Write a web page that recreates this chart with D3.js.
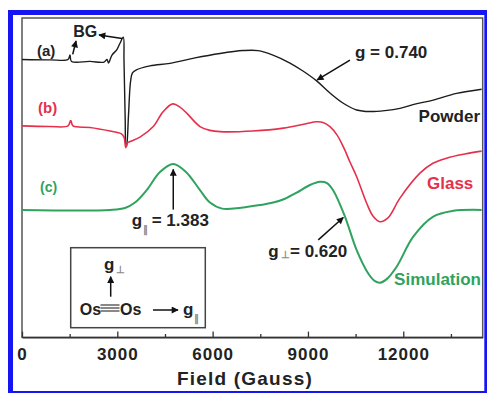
<!DOCTYPE html>
<html>
<head>
<meta charset="utf-8">
<script src="https://cdn.jsdelivr.net/npm/d3@7/dist/d3.min.js"></script>
<style>
  html, body { margin: 0; padding: 0; background: #fff; }
  svg { display: block; }
  text { font-family: "Liberation Sans", Arial, Helvetica, sans-serif; font-weight: bold; }
</style>
</head>
<body>
<svg id="chart" width="487" height="393"></svg>
<script>
// ---------------- DATA ----------------
// Field in Gauss, intensity in arbitrary units (stacked with offsets)
const powderField = [0, 881, 1448, 1510, 1558, 2140, 2581, 2675, 2722, 2832, 2980, 3084, 3188, 3210, 3248, 3273, 3289, 3352, 3415, 3477, 3588, 4028, 4658, 5444, 6231, 6955, 7427, 7899, 8434, 8843, 9274, 9693, 10112, 10533, 10952, 11424, 11896, 12399, 12944, 13680, 14467];
const powderValue = [87.0, 86.9, 87.0, 88.4, 86.4, 86.4, 86.2, 87.0, 85.9, 88.4, 90.0, 92.1, 94.0, 86.8, 68.1, 59.8, 59.9, 69.6, 80.0, 82.8, 83.7, 85.0, 85.8, 87.5, 88.9, 89.8, 89.8, 88.4, 85.9, 83.4, 80.3, 76.5, 73.3, 71.2, 70.7, 71.0, 71.7, 73.1, 74.3, 76.4, 77.7];

const glassField = [0, 881, 1448, 1533, 1605, 2140, 2769, 3116, 3210, 3267, 3320, 3399, 3713, 4132, 4437, 4743, 4972, 5183, 5602, 5916, 6231, 7270, 8223, 8906, 9274, 9472, 9693, 9913, 10112, 10322, 10533, 10848, 11046, 11266, 11518, 11896, 12525, 12934, 13365, 13941, 14467];
const glassValue = [66.2, 66.0, 66.2, 67.9, 66.2, 65.7, 64.6, 63.8, 62.7, 59.4, 60.9, 61.3, 62.7, 66.0, 70.6, 73.1, 72.1, 70.2, 66.0, 64.8, 64.4, 64.6, 65.5, 66.8, 67.5, 67.3, 66.0, 63.4, 59.7, 54.9, 50.3, 42.0, 38.0, 36.2, 37.4, 43.6, 51.4, 54.5, 56.1, 57.4, 58.3];

const simField = [0, 2769, 3242, 3556, 3924, 4343, 4761, 5161, 5602, 5916, 6300, 6900, 7490, 7909, 8277, 8645, 9063, 9378, 9598, 9797, 10165, 10533, 10898, 11109, 11266, 11486, 11792, 12314, 12944, 13573, 14467];
const simValue = [39.9, 39.9, 40.5, 42.2, 46.1, 51.8, 54.3, 51.8, 46.1, 42.2, 40.3, 40.6, 41.4, 42.2, 43.4, 45.3, 47.7, 48.7, 48.3, 46.0, 37.8, 27.3, 20.0, 17.6, 17.1, 18.3, 22.1, 31.5, 37.8, 39.6, 39.9];

const majorTicks = [0, 3000, 6000, 9000, 12000];
const minorTicks = [1500, 4500, 7500, 10500, 13500];
const xTitle = "Field (Gauss)";
const curveLabels = ["(a)", "(b)", "(c)"];
const curveNames = ["Powder", "Glass", "Simulation"];

// ---------------- LAYOUT ----------------
const svg = d3.select("#chart");
const pL = 22, pR = 482.7, pT = 18, pB = 337.3;
const x = d3.scaleLinear().domain([0, 14500]).range([pL, pR]);
const y = d3.scaleLinear().domain([0, 100]).range([pB, pT]);

const colBlack = "#1c1c1c", colRed = "#e5304c", colGreen = "#2fa35e";

// blue figure border
svg.append("rect").attr("x", 10.5).attr("y", 12.5).attr("width", 476.3).attr("height", 381)
  .attr("fill", "none").attr("stroke", "#1515f2").attr("stroke-width", 5);

// arrow marker
const defs = svg.append("defs");
defs.append("marker").attr("id", "ah").attr("viewBox", "0 0 10 10")
  .attr("refX", 9).attr("refY", 5).attr("markerWidth", 9).attr("markerHeight", 7)
  .attr("markerUnits", "userSpaceOnUse").attr("orient", "auto")
  .append("path").attr("d", "M0,0 L10,5 L0,10 Z").attr("fill", "#111");

// frame
svg.append("rect").attr("x", pL).attr("y", pT).attr("width", pR - pL).attr("height", pB - pT)
  .attr("fill", "none").attr("stroke", "#555").attr("stroke-width", 1.5);

// axes
const gx = svg.append("g").attr("transform", `translate(0,${pB})`)
  .call(d3.axisBottom(x).tickValues(majorTicks).tickFormat(d3.format("d")).tickSize(-5.7).tickSizeOuter(0).tickPadding(11));
gx.select(".domain").attr("stroke", "#333").attr("stroke-width", 1.5);
gx.selectAll(".tick line").attr("stroke", "#333").attr("stroke-width", 1.3);
gx.selectAll(".tick text").attr("font-size", 17).attr("fill", "#222").attr("letter-spacing", "1px")
  .attr("font-family", "Liberation Sans, Arial, sans-serif").attr("font-weight", "bold");

const gm = svg.append("g").attr("transform", `translate(0,${pB})`)
  .call(d3.axisBottom(x).tickValues(minorTicks).tickFormat("").tickSize(-3.3).tickSizeOuter(0));
gm.select(".domain").remove();
gm.selectAll(".tick line").attr("stroke", "#333").attr("stroke-width", 1.3);

svg.append("text").attr("x", 245).attr("y", 385).attr("text-anchor", "middle")
  .attr("font-size", 19).attr("letter-spacing", "1.2px").attr("fill", "#222").text(xTitle);

// curves
const line = d3.line().x(d => x(d[0])).y(d => y(d[1])).curve(d3.curveCatmullRom.alpha(0.5));
const series = [
  { f: powderField, v: powderValue, c: colBlack, w: 1.4 },
  { f: glassField, v: glassValue, c: colRed, w: 1.6 },
  { f: simField, v: simValue, c: colGreen, w: 2 }
];
series.forEach(s => {
  svg.append("path").datum(s.f.map((f, i) => [f, s.v[i]]))
    .attr("d", line).attr("fill", "none").attr("stroke", s.c).attr("stroke-width", s.w)
    .attr("stroke-linejoin", "round");
});

// labels
const lab = (tx, xx, yy, size, col, anchor) =>
  svg.append("text").attr("x", xx).attr("y", yy).attr("font-size", size).attr("fill", col)
    .attr("text-anchor", anchor || "start").text(tx);

lab(curveLabels[0], 37, 56, 15, "#222");
lab(curveLabels[1], 38, 113, 15, colRed);
lab(curveLabels[2], 40, 191.5, 14, colGreen);
lab(curveNames[0], 480, 122, 17, "#222", "end");
lab(curveNames[1], 473.3, 189.3, 17, colRed, "end");
lab(curveNames[2], 481, 285, 17, colGreen, "end");

lab("BG", 73.3, 37.3, 16, "#222");
lab("g = 0.740", 355, 58.3, 17, "#222");

lab("g", 131.7, 226, 17, "#222");
lab("\u2225", 143, 233, 10, "#888");
lab("= 1.383", 151.7, 226, 17, "#222");

lab("g", 268.3, 257.3, 17, "#222");
lab("\u22A5", 280.5, 258, 10, "#888");
lab("= 0.620", 290, 257.3, 17, "#222");

// annotation arrows (field, intensity coordinates)
const arrows = [
  [[1596, 88.6], [1700, 92.8]],
  [[3150, 93.6], [2423, 94.7]],
  [[10322, 86.8], [9290, 80.6]],
  [[4761, 40.0], [4761, 52.6]],
  [[9325, 30.5], [10112, 37.5]]
];
arrows.forEach(a => {
  svg.append("line").attr("x1", x(a[0][0])).attr("y1", y(a[0][1]))
    .attr("x2", x(a[1][0])).attr("y2", y(a[1][1]))
    .attr("stroke", "#111").attr("stroke-width", 1.5).attr("marker-end", "url(#ah)");
});

// inset
const inset = svg.append("g");
inset.append("rect").attr("x", 70.7).attr("y", 247.7).attr("width", 134.6).attr("height", 80)
  .attr("fill", "#fff").attr("stroke", "#444").attr("stroke-width", 1.5);
inset.append("text").attr("x", 104).attr("y", 270).attr("font-size", 17).attr("fill", "#222").text("g");
inset.append("text").attr("x", 115.5).attr("y", 273).attr("font-size", 10).attr("fill", "#888").text("\u22A5");
inset.append("line").attr("x1", 110.7).attr("y1", 296.7).attr("x2", 110.7).attr("y2", 276.7)
  .attr("stroke", "#111").attr("stroke-width", 1.5).attr("marker-end", "url(#ah)");
inset.append("text").attr("x", 79.7).attr("y", 315).attr("font-size", 16).attr("fill", "#222").text("Os");
[305, 308, 311].forEach(yy => inset.append("line").attr("x1", 100.5).attr("x2", 119.5)
  .attr("y1", yy).attr("y2", yy).attr("stroke", "#555").attr("stroke-width", 1.4));
inset.append("text").attr("x", 120).attr("y", 315).attr("font-size", 16).attr("fill", "#222").text("Os");
inset.append("line").attr("x1", 153).attr("y1", 310).attr("x2", 178).attr("y2", 310)
  .attr("stroke", "#111").attr("stroke-width", 1.5).attr("marker-end", "url(#ah)");
inset.append("text").attr("x", 183).attr("y", 315).attr("font-size", 17).attr("fill", "#222").text("g");
inset.append("text").attr("x", 193.5).attr("y", 322).attr("font-size", 10).attr("fill", "#888").text("\u2225");
</script>
</body>
</html>
